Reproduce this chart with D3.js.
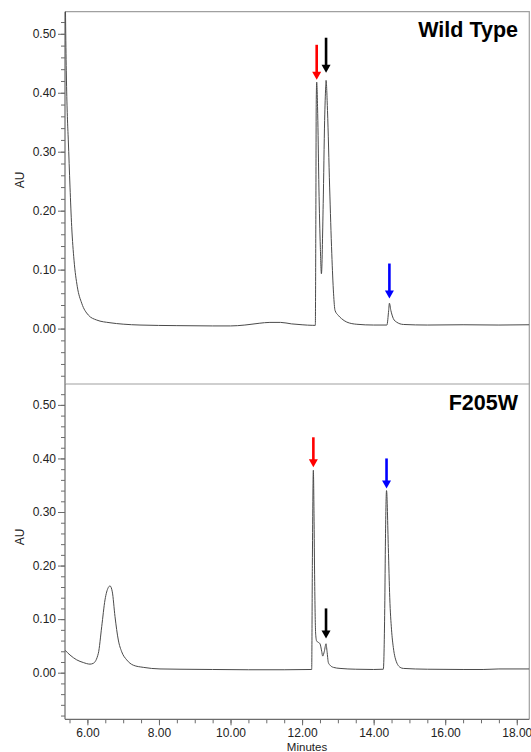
<!DOCTYPE html>
<html>
<head>
<meta charset="utf-8">
<script src="https://cdn.jsdelivr.net/npm/d3@7"></script>
<style>
  body { margin: 0; background: #fff; }
  svg { display: block; font-family: "Liberation Sans", Arial, sans-serif; }
</style>
</head>
<body>
<script>
// chromatogram traces, [minutes, AU]
let wild_type = [
  [5.374, 0.62], [5.395, 0.50], [5.415, 0.42], [5.44, 0.36], [5.466, 0.32],
  [5.514, 0.24], [5.561, 0.173], [5.626, 0.116], [5.718, 0.071], [5.841, 0.043],
  [6.025, 0.023], [6.26, 0.0145], [6.632, 0.0099], [7.0, 0.0075], [7.47, 0.006],
  [8.5, 0.005], [9.5, 0.0045], [10.0, 0.0045], [10.4, 0.006], [10.8, 0.009],
  [11.1, 0.0105], [11.4, 0.0105], [11.7, 0.008], [12.0, 0.0065], [12.3, 0.0055],
  [12.37, 0.0055], [12.385, 0.20], [12.395, 0.38], [12.408, 0.418], [12.44, 0.353],
  [12.47, 0.24], [12.51, 0.138], [12.54, 0.093], [12.59, 0.212], [12.63, 0.353],
  [12.66, 0.41], [12.67, 0.421], [12.71, 0.37], [12.77, 0.24], [12.83, 0.127],
  [12.88, 0.059], [12.92, 0.031], [13.01, 0.0225], [13.10, 0.017], [13.25, 0.011],
  [13.53, 0.0073], [14.0, 0.006], [14.37, 0.006], [14.42, 0.031], [14.44, 0.043],
  [14.48, 0.031], [14.55, 0.017], [14.64, 0.011], [14.83, 0.007], [15.5, 0.006],
  [16.5, 0.0065], [17.5, 0.006], [18.35, 0.0065]
];

let f205w = [
  [5.374, 0.042], [5.514, 0.033], [5.701, 0.024], [5.885, 0.019], [6.073, 0.016],
  [6.165, 0.0175], [6.305, 0.036], [6.40, 0.086], [6.492, 0.136], [6.584, 0.159],
  [6.632, 0.162], [6.696, 0.151], [6.771, 0.105], [6.864, 0.061], [6.959, 0.039],
  [7.098, 0.024], [7.283, 0.014], [7.562, 0.010], [8.029, 0.007], [8.588, 0.0065],
  [9.5, 0.006], [10.5, 0.0055], [11.5, 0.0055], [12.25, 0.006], [12.268, 0.006],
  [12.287, 0.20], [12.315, 0.378], [12.333, 0.297], [12.352, 0.17], [12.380, 0.072],
  [12.408, 0.059], [12.445, 0.057], [12.501, 0.054], [12.548, 0.040], [12.576, 0.031],
  [12.622, 0.040], [12.669, 0.054], [12.697, 0.040], [12.734, 0.019], [12.781, 0.014],
  [12.874, 0.010], [13.06, 0.008], [13.5, 0.0065], [14.0, 0.006], [14.27, 0.0065],
  [14.31, 0.12], [14.33, 0.25], [14.36, 0.34], [14.41, 0.234], [14.45, 0.14],
  [14.50, 0.08], [14.55, 0.047], [14.60, 0.028], [14.74, 0.010], [14.83, 0.008],
  [15.5, 0.0065], [16.5, 0.006], [17.06, 0.006], [17.5, 0.007], [18.35, 0.007]
];

// peak markers: [minutes, AU at arrow tip, colour]
let wild_type_arrows = [[12.408, 0.422, "red"], [12.67, 0.434, "black"], [14.44, 0.051, "blue"]];
let f205w_arrows = [[12.315, 0.3835, "red"], [12.669, 0.064, "black"], [14.36, 0.344, "blue"]];

// ticks
let x_major_ticks = [6, 8, 10, 12, 14, 16, 18];
let y_major_ticks = [0, 0.1, 0.2, 0.3, 0.4, 0.5];

// colours
let color_trace = "#4a4a4a";
let color_axis = "#6b6b6b";
let color_frame = "#a0a0a0";
let color_text = "#222";

let width = 531, height = 752;
let left = 65, right = 529.3;
let top1 = 11.7, mid = 384, bottom = 719.3;

let svg = d3.select("body").append("svg")
  .attr("width", width).attr("height", height);

let x = d3.scaleLinear().domain([5.374, 18.35]).range([left, right]);
let y_top = d3.scaleLinear().domain([-0.094, 0.5375]).range([mid, top1]);
let y_bot = d3.scaleLinear().domain([-0.087, 0.539]).range([bottom, mid]);

function draw_panel(data, y, y0, y1, title, title_y, arrows, id, label_y) {
  svg.append("clipPath").attr("id", id)
    .append("rect").attr("x", left).attr("y", y1).attr("width", right - left).attr("height", y0 - y1);

  // frame (top + right)
  svg.append("path")
    .attr("d", `M${left},${y1}H${right}V${y0}`)
    .attr("fill", "none").attr("stroke", color_frame).attr("stroke-width", 1.2);

  // minor ticks
  let minor = d3.range(-0.08, 0.5201, 0.02).filter(v => v >= y.domain()[0] && v <= y.domain()[1]);
  svg.append("g").attr("transform", `translate(${left},0)`)
    .call(d3.axisLeft(y).tickValues(minor).tickSize(4).tickFormat(""))
    .call(g => g.select(".domain").remove())
    .call(g => g.selectAll("line").attr("stroke", color_axis));

  // major ticks
  let ax = svg.append("g").attr("transform", `translate(${left},0)`)
    .call(d3.axisLeft(y).tickValues(y_major_ticks).tickSize(7).tickPadding(2).tickFormat(d3.format(".2f")))
    .call(g => g.select(".domain").remove());
  ax.selectAll("line").attr("stroke", color_axis);
  ax.selectAll("text").attr("fill", color_text).style("font-size", "12px")
    .style("font-family", '"Liberation Sans", Arial, sans-serif');

  svg.append("line").attr("x1", left).attr("x2", left).attr("y1", y1).attr("y2", y0)
    .attr("stroke", color_axis).attr("stroke-width", 1.2);

  let line = d3.line().x(d => x(d[0])).y(d => y(d[1])).curve(d3.curveMonotoneX);
  svg.append("path").datum(data)
    .attr("clip-path", `url(#${id})`)
    .attr("d", line)
    .attr("fill", "none").attr("stroke", color_trace).attr("stroke-width", 1);

  svg.append("text").attr("x", 518).attr("y", title_y)
    .attr("text-anchor", "end").attr("font-weight", "bold")
    .attr("font-size", 21.5).attr("fill", "#000").text(title);

  svg.append("text")
    .attr("transform", `translate(24,${label_y}) rotate(-90)`)
    .attr("text-anchor", "middle").attr("font-size", 12).attr("fill", color_text).text("AU");

  arrows.forEach(a => {
    let ax0 = x(a[0]), tip = y(a[1]);
    let len = id === "clip_top" ? 35 : 30;
    svg.append("line").attr("x1", ax0).attr("x2", ax0)
      .attr("y1", tip - len).attr("y2", tip - 6)
      .attr("stroke", a[2]).attr("stroke-width", 2.6);
    svg.append("path")
      .attr("d", `M${ax0 - 4.5},${tip - 8}L${ax0 + 4.5},${tip - 8}L${ax0},${tip}Z`)
      .attr("fill", a[2]);
  });
}

draw_panel(wild_type, y_top, mid, top1, "Wild Type", 36.7, wild_type_arrows, "clip_top", 180);
draw_panel(f205w, y_bot, bottom, mid, "F205W", 410, f205w_arrows, "clip_bot", 537);

// x axis
let x_minor = d3.range(5.5, 18.01, 0.5);
svg.append("g").attr("transform", `translate(0,${bottom})`)
  .call(d3.axisBottom(x).tickValues(x_minor).tickSize(4).tickFormat(""))
  .call(g => g.select(".domain").remove())
  .call(g => g.selectAll("line").attr("stroke", color_axis));

let xa = svg.append("g").attr("transform", `translate(0,${bottom})`)
  .call(d3.axisBottom(x).tickValues(x_major_ticks).tickSize(6).tickPadding(3).tickFormat(d3.format(".2f")))
  .call(g => g.select(".domain").remove());
xa.selectAll("line").attr("stroke", color_axis);
xa.selectAll("text").attr("fill", color_text).style("font-size", "12px")
  .style("font-family", '"Liberation Sans", Arial, sans-serif');

svg.append("line").attr("x1", left).attr("x2", right).attr("y1", bottom).attr("y2", bottom)
  .attr("stroke", color_axis).attr("stroke-width", 1.2);

svg.append("text").attr("x", 307).attr("y", 750.5)
  .attr("text-anchor", "middle").attr("font-size", 11.5).attr("fill", color_text).text("Minutes");
</script>
</body>
</html>
